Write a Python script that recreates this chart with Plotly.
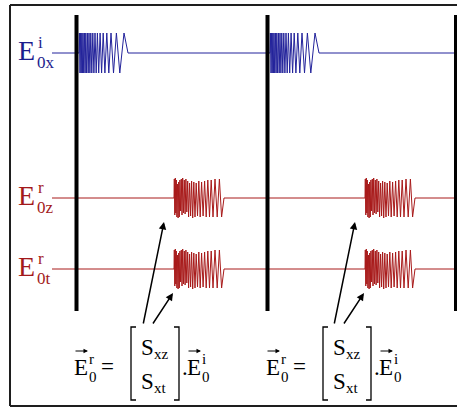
import plotly.graph_objects as go

# ---------------- data ----------------
channel_levels = {"inc_x": 216, "ref_z": 71, "ref_t": 0}   # baseline level of each signal
interface_times = [0, 191, 379.5]                          # instants of the thick interface bars
incident_starts = [2.5, 193.5]                             # start of incident wave packets
reflected_starts = [97.5, 288.5]                           # start of reflected wave packets
trace_span = [-24.5, 381]                                  # time span of every signal line

# incident chirped packet: peak times (relative to packet start) and amplitudes
incident_offsets = [0, 0.4, 1.0, 1.6, 2.2, 2.8, 3.4, 4.0, 4.7, 5.4, 6.1, 6.8, 7.6, 8.4,
                    9.2, 10.0, 10.9, 11.8, 12.8, 13.8, 14.9, 16.0, 17.2, 18.4, 19.7, 21.1,
                    22.6, 24.2, 25.9, 27.8, 29.8, 32.0, 34.5, 37.4, 40.8, 45.0, 49.0]
incident_amps = [0, 20, -20, 20, -20, 20, -20, 20, -20, 20, -20, 20, -20, 20,
                 -20, 20, -20, 20, -20, 20, -20, 20, -20, 20, -20, 20,
                 -20, 20, -20, 20, -20, 20, -20, 20, -20, 20, 0]

# reflected packet (distorted, sign-flipped ending)
reflected_offsets = [0, 0.3, 0.8, 1.3, 1.8, 2.3, 2.9, 3.5, 4.1, 4.7, 5.3, 5.9, 6.6, 7.3, 8.0,
                     8.7, 9.5, 10.3, 11.1, 11.9, 12.8, 13.7, 14.6, 15.6, 16.6, 17.6, 18.7,
                     19.8, 21.0, 22.2, 23.5, 24.8, 26.2, 27.6, 29.1, 30.6, 32.2, 33.8, 35.5,
                     37.2, 39.0, 41.0, 43.2, 45.4, 47.6, 50.0]
reflected_amps = [0, 19, -17, 20, -15, 18, -19, 14, -20, 16, -19, 18, -13, 19, -17,
                  20, -15, 18, -16, 19, -14, 17, -19, 15, -18, 17, -20,
                  16, -19, 15, -18, 17, -19, 16, -18, 17, -19, 18, -19,
                  18, -19, 19, -19, 19, -19, 0]

BLUE = "#23239b"
BLUE_TXT = "#1c1c8e"
RED = "#a81a1a"
RED_TXT = "#a3191b"
FONT = "Liberation Serif, Times New Roman, serif"

W, H = 457, 407


def px(x):
    return x / W


def py(y):
    return 1 - y / H


def build(starts, offsets, amps, level):
    xs, ys = [trace_span[0]], [level]
    for s in starts:
        for o, a in zip(offsets, amps):
            xs.append(s + o)
            ys.append(level + a)
    xs.append(trace_span[1])
    ys.append(level)
    return xs, ys


fig = go.Figure()

for key, starts, offs, amps, col in [
    ("inc_x", incident_starts, incident_offsets, incident_amps, BLUE),
    ("ref_z", reflected_starts, reflected_offsets, reflected_amps, RED),
    ("ref_t", reflected_starts, reflected_offsets, reflected_amps, RED),
]:
    xs, ys = build(starts, offs, amps, channel_levels[key])
    fig.add_trace(go.Scatter(x=xs, y=ys, mode="lines",
                             line=dict(color=col, width=1),
                             hoverinfo="skip", showlegend=False))

shapes = []
# interface bars
for t in interface_times:
    shapes.append(dict(type="line", xref="x", yref="y", x0=t, x1=t, y0=254, y1=-42,
                       line=dict(color="black", width=4)))
# frame
frame = dict(color="#1e1e1e", width=2)
shapes.append(dict(type="line", xref="paper", yref="paper", x0=px(10), x1=1.01, y0=py(5), y1=py(5), line=frame))
shapes.append(dict(type="line", xref="paper", yref="paper", x0=px(10), x1=1.01, y0=py(406), y1=py(406), line=frame))
shapes.append(dict(type="line", xref="paper", yref="paper", x0=px(10), x1=px(10), y0=py(5), y1=py(406), line=frame))

annotations = []


def txt(s, x, baseline, size, color, anchor="left"):
    annotations.append(dict(text=s, xref="paper", yref="paper", x=px(x),
                            y=py(baseline - 0.34 * size), xanchor=anchor, yanchor="middle",
                            showarrow=False, borderpad=0,
                            font=dict(family=FONT, size=size, color=color)))


def level_px(level):
    return 269 - level


for key, sup, sub, col in [("inc_x", "i", "0x", BLUE_TXT), ("ref_z", "r", "0z", RED_TXT),
                           ("ref_t", "r", "0t", RED_TXT)]:
    yl = level_px(channel_levels[key])
    txt("E", 17, yl + 7, 28, col)
    txt(sup, 37, yl - 5, 17, col)
    txt(sub, 36, yl + 15, 17, col)


def vec_arrow(x0, x1, y):
    annotations.append(dict(text="", xref="paper", yref="paper", x=px(x1), y=py(y),
                            ax=x0 - x1, ay=0, showarrow=True, arrowhead=2, arrowsize=0.9,
                            arrowwidth=1, arrowcolor="black"))


def formula(ox):
    base = 375
    s = 23
    txt("E", ox, base, s, "black")
    vec_arrow(ox + 1, ox + 15, 351)
    txt("r", ox + 15, base - 11, 15, "black")
    txt("0", ox + 15, base + 7, 15, "black")
    txt("=", ox + 27, base - 1, s, "black")
    bx0, bx1 = ox + 58, ox + 106
    for bx, d in [(bx0, 5), (bx1, -5)]:
        shapes.append(dict(type="path", xref="paper", yref="paper",
                           path=f"M {px(bx + d)} {py(327)} L {px(bx)} {py(327)} L {px(bx)} {py(400)} L {px(bx + d)} {py(400)}",
                           line=dict(color="black", width=1.3)))
    txt("S", ox + 67, 355, s, "black")
    txt("xz", ox + 80, 359, 15, "black")
    txt("S", ox + 67, 389, s, "black")
    txt("xt", ox + 80, 393, 15, "black")
    txt(".", ox + 108, base, s, "black")
    txt("E", ox + 113, base, s, "black")
    vec_arrow(ox + 114, ox + 128, 351)
    txt("i", ox + 128, base - 11, 15, "black")
    txt("0", ox + 128, base + 7, 15, "black")


formula(73)
formula(265)

# pointer arrows from matrix to reflected packets
for t0 in interface_times[:2]:
    for head_t, head_lvl, tail_dx, tail_px in [(87.5, channel_levels["ref_z"] - 24, -21, 325),
                                              (96.5, channel_levels["ref_t"] - 24, -21, 325)]:
        hx = t0 + head_t
        hy = head_lvl
        head_px_y = 269 - hy
        annotations.append(dict(text="", xref="x", yref="y", x=hx, y=hy,
                                ax=tail_dx, ay=tail_px - head_px_y, showarrow=True,
                                arrowhead=2, arrowsize=1, arrowwidth=1.5, arrowcolor="black"))

fig.update_layout(
    width=W, height=H, margin=dict(l=0, r=0, t=0, b=0),
    paper_bgcolor="white", plot_bgcolor="white",
    xaxis=dict(range=[-76.5, 380.5], visible=False, fixedrange=True),
    yaxis=dict(range=[-138, 269], visible=False, fixedrange=True),
    shapes=shapes, annotations=annotations, showlegend=False,
)

fig.write_html("out.html", config={"displayModeBar": False},
               post_script="document.body.style.margin='0';document.body.style.overflow='hidden';")
